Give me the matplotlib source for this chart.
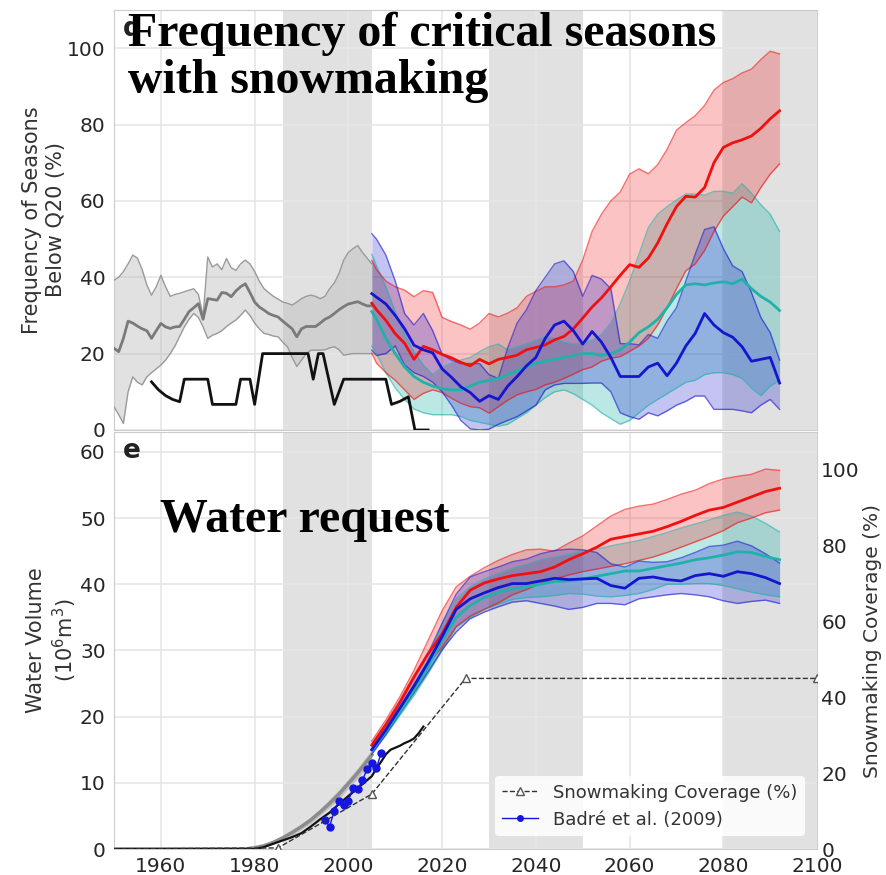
import matplotlib
matplotlib.use("Agg")
import matplotlib.pyplot as plt
from matplotlib.lines import Line2D

# ---------------- data: panel d (frequency of seasons below Q20, %) ----------------
yrs_hist = list(range(1950, 2006))
hist_up = [39.2, 40, 41.5, 43.5, 45.8, 45, 42, 38, 35.3, 37.5, 40.5, 37.5, 35, 35.5, 35.8, 36.2,
           36.6, 37, 35.5, 29.8, 45.3, 42.7, 43.5, 42, 44.9, 42.5, 41.8, 43.5, 44.5, 43.5, 41.5,
           39, 37, 36, 35, 34.3, 33.5, 33.2, 32.7, 33.5, 34.4, 35, 35.3, 35, 34.4, 35, 37, 38.5,
           41, 44.5, 46.5, 47.5, 48.3, 46.5, 45, 43.5]
hist_med = [21.4, 20.5, 24, 28.5, 28, 27.2, 26.5, 26, 24, 26, 27.9, 27, 26.6, 27, 27.1, 29, 31,
            32, 33.1, 29, 34.4, 34.2, 34, 36, 35.8, 34.9, 36.4, 37.5, 38.3, 36, 33.5, 32.2, 31.4,
            30.5, 30, 29.6, 28.5, 27.5, 26.5, 24.4, 26.5, 27.1, 27.1, 27.1, 28, 29, 29.6, 30.5,
            31.5, 32.3, 33, 33.3, 33.6, 33, 32.5, 32.5]
hist_lo = [6.1, 4, 1.7, 10, 13.9, 12.5, 11.8, 13.9, 15, 16, 17, 18.3, 20, 22, 24.5, 27, 29, 30.5,
           29.5, 27, 24, 24.8, 25.3, 26, 27.1, 28, 28.8, 30, 31.4, 30, 28, 26.5, 25.3, 25, 24.6,
           24.4, 23, 21.8, 19, 16.6, 18.3, 20, 20.9, 20.9, 20.9, 21, 21.5, 21.8, 21, 19.6, 19.8,
           20, 20, 20, 20, 20]

obs_yrs = [1958, 1959.5, 1961, 1962.5, 1964, 1965, 1970, 1971, 1976, 1977, 1979, 1980, 1981.7,
           1991.4, 1992.5, 1993.6, 1994.6, 1997, 1999, 2008, 2009.2, 2011, 2012.8, 2014.2, 2017]
obs_freq = [12.6, 10.5, 9, 8, 7.4, 13.3, 13.3, 6.7, 6.7, 13.3, 13.3, 6.7, 20,
            20, 13.3, 20, 20, 6.7, 13.3, 13.3, 6.7, 7.5, 8.7, 0, 0]

yrs_fut = [2005] + list(range(2006, 2093, 2))
red_up = [44.4, 42, 39, 37.5, 36.6, 34.9, 36.5, 36, 29.5, 28.4, 27.5, 26.4, 28, 30.5, 29.6, 30.6,
          32, 35, 36.3, 37.5, 37.5, 38, 39, 44.5, 52, 56.5, 60, 62.3, 67, 68.4, 67.1, 69.5, 73.5,
          78.5, 80.5, 82.3, 85, 89, 91, 92, 93.5, 94.5, 97, 99.2, 98.5]
red_med = [33.2, 31.5, 28.7, 25.2, 22.7, 18.5, 21.9, 21, 19.8, 18.9, 17.7, 16.8, 18.5, 17.3, 18.5,
           19, 19.6, 21, 21.6, 22.3, 23.6, 24.5, 26.5, 29.3, 32.2, 34.6, 37.5, 40.5, 43.3, 42.6,
           45, 49, 54, 58.5, 61.2, 61, 63.5, 70, 74, 75.2, 76, 77, 79, 81.5, 83.6]
red_lo = [20.1, 17.5, 15, 13, 10.5, 8, 9.6, 10.5, 9.8, 8.3, 7, 6.1, 5.8, 4.4, 6.1, 7.8, 9.2, 10,
          10.6, 11.8, 12.5, 13.5, 14.6, 15.8, 16.5, 18, 18.8, 19.2, 20.6, 22, 24, 27.5, 32, 37,
          41.7, 43.5, 47, 52, 56, 58.5, 61, 59.5, 63.5, 67, 69.7]
cya_up = [46, 43, 37.5, 31, 25, 20.5, 17, 14.5, 16.5, 17.4, 18.3, 19, 20.5, 21.8, 22.5, 21, 21.8,
          22.5, 23.5, 24.4, 24, 23, 22.5, 22.8, 23.5, 25, 28, 33, 39, 46, 53, 56.5, 58.5, 60.2,
          61.8, 61.8, 61.5, 62.5, 62.5, 62, 64.5, 62, 59, 56.5, 52]
cya_med = [31, 29, 24, 20, 16.5, 14, 12.5, 11.5, 10.8, 10.5, 10.5, 11.5, 12.5, 13, 13.5, 14.5,
           15.5, 16.5, 17.5, 18, 18.5, 19, 19.5, 20, 20, 19.5, 20, 21, 23, 25.5, 27, 29, 32, 35.5,
           38, 38.3, 38, 38.5, 38.8, 38.3, 39.5, 37, 35, 33.5, 31.3]
cya_lo = [22, 20, 15, 11, 8, 5.5, 4.5, 4, 4, 4, 3.5, 2.5, 2, 1.5, 1, 1.5, 3, 4.5, 6.5, 8.5, 10,
          10.5, 9.5, 8, 6.5, 4.5, 3, 1.5, 2.5, 4.5, 6.5, 8, 9.5, 11, 12.5, 13, 14.5, 15, 15, 14.5,
          13.5, 11, 9, 11.5, 13]
blu_up = [51.4, 50, 45.8, 39, 30.5, 27.5, 30.5, 26, 19.8, 18.3, 17.4, 17.4, 17.4, 14.5, 13.5,
          21.5, 28, 31.5, 36.5, 40, 43.5, 44.3, 41.5, 35, 40.5, 39.5, 37, 22.6, 22.6, 22.3, 25,
          24, 28.5, 32, 39, 46, 52.5, 53.2, 47.5, 43, 41.5, 36, 29.5, 25.5, 18.3]
blu_med = [35.7, 34.8, 33, 30, 26.5, 22.2, 21, 20.2, 16, 13.8, 11.3, 9.8, 7.5, 9, 8, 11.5, 14,
           16.8, 19, 24, 27.5, 28.5, 26, 22.5, 25.8, 23, 19, 14, 14, 14, 16.5, 17.5, 14.2, 17.5,
           22, 25.3, 30.5, 27.5, 25.5, 24.3, 21.8, 18, 18.5, 19, 12.3]
blu_lo = [20.9, 19.5, 20, 22, 17, 15, 14, 12.5, 10, 6.5, 2.5, 0.3, 0, 0.2, 1.5, 2.5, 3.5, 5, 6.5,
          10.5, 11.8, 12.2, 12.2, 12.2, 12.3, 12.3, 10, 4.5, 3.5, 2.8, 4.5, 3.7, 5, 6.5, 7.5, 8.9,
          8.9, 5.4, 5.4, 5.4, 5, 4.5, 6.5, 8, 5.4]

# ---------------- data: panel e (water volume, 10^6 m3) ----------------
yrs_wh = [1950, 1978, 1980, 1982, 1984, 1986, 1988, 1990, 1992, 1994, 1996, 1998, 2000, 2002,
          2004, 2005]
wh_med = [0, 0, 0.2, 0.5, 1.0, 1.7, 2.5, 3.4, 4.4, 5.6, 6.9, 8.3, 9.9, 11.5, 13.3, 14.2]
wh_up = [0, 0, 0.3, 0.7, 1.3, 2.0, 2.9, 3.8, 4.9, 6.1, 7.5, 9.0, 10.6, 12.3, 14.1, 15.0]
wh_lo = [0, 0, 0.1, 0.3, 0.8, 1.4, 2.1, 3.0, 3.9, 5.1, 6.3, 7.6, 9.2, 10.7, 12.5, 13.4]

obs_wyrs = [1950, 1980, 1982, 1984, 1986, 1988, 1990, 1992, 1994, 1996, 1998, 2000, 2002, 2004,
            2005, 2006, 2007, 2008, 2009, 2010, 2011, 2012, 2013, 2014, 2015, 2016]
obs_water = [0, 0, 0.3, 0.8, 1.3, 1.8, 2.4, 3.4, 4.5, 5.5, 6.8, 8.0, 9.2, 10.4, 11, 12.2, 13.2,
             14.3, 15, 15.3, 15.6, 16, 16.3, 16.7, 17.5, 18.5]

badre_yrs = [1995, 1996, 1997, 1998, 1999, 2000, 2001, 2002, 2003, 2004, 2005, 2006, 2007]
badre_vol = [4.4, 3.4, 5.8, 7.2, 6.6, 7.3, 9.2, 9.0, 10.4, 12.1, 13.0, 12.3, 14.5]

cov_yrs = [1950, 1985, 2005, 2025, 2100]
cov_pct = [0, 0.3, 14.5, 45, 45]

yrs_wf = list(range(2005, 2093, 3))
wred_up = [16.3, 19.5, 23, 27, 31.5, 36, 39.6, 41.2, 42.5, 43.6, 44.5, 45.2, 45.3, 45, 46.2, 47.3,
           48.8, 50.3, 51.3, 51.8, 52.1, 52.8, 53.6, 54.2, 55.2, 55.9, 56.3, 56.6, 57.4, 57.2]
wred_med = [15.7, 18.8, 22.2, 26, 29.5, 32.5, 36.5, 39.1, 40.2, 40.8, 41.3, 41.6, 41.9, 42.6,
            43.7, 44.6, 45.6, 46.8, 47.2, 47.6, 48, 48.7, 49.5, 50.4, 51.2, 51.6, 52.4, 53.2, 54,
            54.5]
wred_lo = [15, 18, 21.2, 24.8, 28, 30.5, 33.6, 35.2, 36.2, 37.2, 38.4, 39.2, 40.1, 40.8, 41.4,
           41.9, 42.3, 42.7, 43.1, 43.6, 44.1, 44.8, 45.6, 46.4, 47.2, 48.1, 49.3, 50, 50.8, 51.2]
wcya_up = [15.5, 18.4, 21.5, 25, 28.5, 34, 37.8, 39.6, 40.8, 41.6, 42.4, 43, 43.7, 44.1, 44.5,
           45, 45.3, 45.8, 46.2, 46.6, 47.2, 47.8, 48.5, 49.1, 49.7, 50.4, 50.9, 50.3, 49.2, 47.9]
wcya_med = [15, 17.8, 20.8, 24, 27.5, 31.5, 35, 36.8, 38, 38.8, 39.3, 39.6, 40, 40.4, 40.5, 40.8,
            41.2, 41.6, 42, 42, 42.4, 42.8, 43.2, 43.7, 44, 44.4, 44.9, 44.8, 44.2, 43.7]
wcya_lo = [14.5, 17.2, 20.2, 23.2, 26.5, 30, 33.5, 35, 36.2, 37, 37.7, 38, 38.1, 38.3, 38.6, 38.5,
           38.2, 38.1, 38.3, 38.6, 39.2, 40, 40, 40.1, 40.1, 39.8, 39.3, 38.8, 38.4, 38.1]
wblu_up = [15.8, 18.8, 22, 25.8, 29.5, 34.1, 38.5, 41.1, 41.9, 42.6, 43.4, 43.8, 44.6, 45.1, 45.3,
           45.2, 44.8, 43.1, 42.6, 43.5, 43.3, 43.4, 44, 44.8, 45.7, 45.9, 46.5, 45.8, 44.6, 43.2]
wblu_med = [15, 18, 21.3, 24.6, 28.2, 32.1, 36.2, 37.8, 38.7, 39.5, 40.1, 40.1, 40.5, 40.9, 40.7,
            40.8, 40.9, 39.8, 39.4, 40.9, 41.1, 40.7, 40.5, 41.3, 41.6, 41.2, 41.9, 41.6, 41, 40.1]
wblu_lo = [14.3, 17.3, 20.5, 23.6, 26.8, 30.1, 32.8, 34.8, 35.8, 36.6, 37.3, 37.5, 37.1, 36.7,
           36.2, 36.5, 37.1, 37.1, 36.9, 37.8, 38.1, 38.4, 38.6, 38.4, 38.1, 37.5, 37.1, 37.4, 37.6,
           37.1]

spans = [(1986, 2005), (2030, 2050), (2080, 2100)]
xticks = [1960, 1980, 2000, 2020, 2040, 2060, 2080, 2100]

RED, CYA, BLU = '#f01010', '#20b2aa', '#1515d0'
TICK = '#262626'


def style_axes(ax):
    ax.set_facecolor('white')
    ax.set_axisbelow(True)
    ax.grid(True, color='#e6e6e6', lw=1.2)
    for s in ax.spines.values():
        s.set_color('#cccccc')
    ax.tick_params(length=0, labelsize=14.5, colors=TICK, pad=6)
    for a, b in spans:
        ax.axvspan(a, b, color='#dcdcdc', alpha=0.85, lw=0, zorder=0)


def ensemble(ax, x, lo, med, up, color, alpha=0.28):
    ax.fill_between(x, lo, up, color=color, alpha=alpha, lw=0, zorder=2)
    ax.plot(x, lo, color=color, lw=1, alpha=0.6, zorder=3)
    ax.plot(x, up, color=color, lw=1, alpha=0.6, zorder=3)
    ax.plot(x, med, color=color, lw=2, zorder=4)


fig = plt.figure(figsize=(8.86, 8.75), dpi=100)
ax1 = fig.add_axes([0.1287, 0.5086, 0.7935, 0.48])
ax2 = fig.add_axes([0.1287, 0.0297, 0.7935, 0.4766])

# ---- panel d ----
style_axes(ax1)
ax1.fill_between(yrs_hist, hist_lo, hist_up, color='#bdbdbd', alpha=0.45, lw=0, zorder=2)
ax1.plot(yrs_hist, hist_up, color='#9a9a9a', lw=1, zorder=3)
ax1.plot(yrs_hist, hist_lo, color='#9a9a9a', lw=1, zorder=3)
ax1.plot(yrs_hist, hist_med, color='#7a7a7a', lw=2, zorder=4)
ax1.plot(obs_yrs, obs_freq, color='#111111', lw=2, zorder=5)
ensemble(ax1, yrs_fut, cya_lo, cya_med, cya_up, CYA, 0.3)
ensemble(ax1, yrs_fut, red_lo, red_med, red_up, RED, 0.25)
ensemble(ax1, yrs_fut, blu_lo, blu_med, blu_up, BLU, 0.25)
ax1.set_xlim(1950, 2100)
ax1.set_ylim(0, 110)
ax1.set_xticks(xticks)
ax1.set_xticklabels([])
ax1.set_yticks([0, 20, 40, 60, 80, 100])
ax1.set_ylabel('Frequency of Seasons\nBelow Q20 (%)', fontsize=15, color='#333333', labelpad=1)
ax1.text(0.012, 0.985, 'd', transform=ax1.transAxes, fontsize=19, fontweight='bold',
         va='top', ha='left', color='#222222')
ax1.text(0.02, 0.995, 'Frequency of critical seasons\nwith snowmaking', transform=ax1.transAxes,
         fontsize=34.5, fontweight='bold', family='Liberation Serif', va='top', ha='left',
         linespacing=1.07, color='black', zorder=10)

# ---- panel e ----
style_axes(ax2)
ax2.fill_between(yrs_wh, wh_lo, wh_up, color='#9e9e9e', alpha=0.5, lw=0, zorder=2)
ax2.plot(yrs_wh, wh_med, color='#8c8c8c', lw=2.5, zorder=3)
ax2.plot(obs_wyrs, obs_water, color='#111111', lw=1.6, zorder=5)
ensemble(ax2, yrs_wf, wcya_lo, wcya_med, wcya_up, CYA, 0.3)
ensemble(ax2, yrs_wf, wred_lo, wred_med, wred_up, RED, 0.25)
ensemble(ax2, yrs_wf, wblu_lo, wblu_med, wblu_up, BLU, 0.25)
ax2.plot(badre_yrs, badre_vol, color='#1515e0', lw=1, marker='o', ms=5, zorder=6)
ax2.set_xlim(1950, 2100)
ax2.set_ylim(0, 63)
ax2.set_xticks(xticks)
ax2.set_yticks([0, 10, 20, 30, 40, 50, 60])
ax2.set_ylabel('Water Volume\n(10$^6$m$^3$)', fontsize=15, color='#333333', labelpad=1)
ax2.text(0.012, 0.985, 'e', transform=ax2.transAxes, fontsize=19, fontweight='bold',
         va='top', ha='left', color='#222222')
ax2.text(0.065, 0.789, 'Water request', transform=ax2.transAxes, fontsize=34.5,
         fontweight='bold', family='Liberation Serif', va='center', ha='left', color='black',
         zorder=10)

ax3 = ax2.twinx()
ax3.set_ylim(0, 110)
ax3.set_yticks([0, 20, 40, 60, 80, 100])
ax3.tick_params(length=0, labelsize=14.5, colors=TICK, pad=3)
for s in ax3.spines.values():
    s.set_visible(False)
ax3.plot(cov_yrs, cov_pct, color='#333333', lw=1, ls='--', marker='^', ms=6, mfc='white',
         mec='#555555', markevery=[1, 2, 3, 4], zorder=4)
ax3.set_ylabel('Snowmaking Coverage (%)', fontsize=14.5, color='#333333', labelpad=2)

handles = [Line2D([], [], color='#333333', lw=1, ls='--', marker='^', ms=6, mfc='white',
                  mec='#555555'),
           Line2D([], [], color='#1515e0', lw=1, marker='o', ms=4)]
leg = ax3.legend(handles, ['Snowmaking Coverage (%)', 'Badré et al. (2009)'], loc='lower right',
                 bbox_to_anchor=(0.995, 0.01), fontsize=13, frameon=True, framealpha=0.85,
                 edgecolor='none', facecolor='white', borderpad=0.4, handlelength=2.0)
for t in leg.get_texts():
    t.set_color('#333333')

fig.savefig('out.png', dpi=100, facecolor='white')
